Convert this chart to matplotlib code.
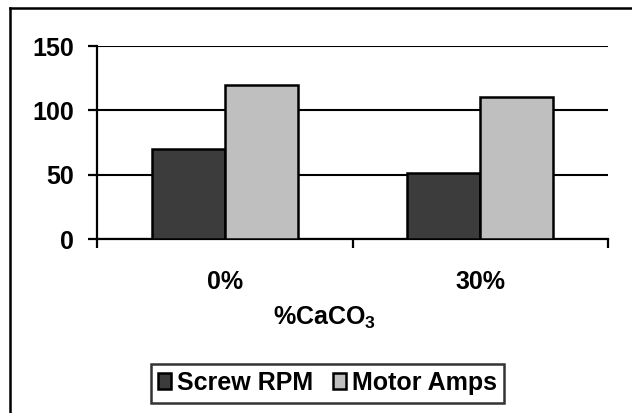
import numpy as np
import matplotlib
matplotlib.use("Agg")
import matplotlib.pyplot as plt
from matplotlib.lines import Line2D

plt.rcParams['font.family'] = ['Liberation Sans', 'DejaVu Sans']
plt.rcParams['font.weight'] = 'bold'
plt.rcParams['mathtext.fontset'] = 'custom'
plt.rcParams['mathtext.rm'] = 'Liberation Sans:bold'
plt.rcParams['mathtext.it'] = 'Liberation Sans:bold'
plt.rcParams['mathtext.bf'] = 'Liberation Sans:bold'

# data
categories = ['0%', '30%']
screw_rpm = [70, 51]
motor_amps = [120, 110]
series_names = ['Screw RPM', 'Motor Amps']
y_ticks = [0, 50, 100, 150]

fs = 18
W, H = 632, 413
fig = plt.figure(figsize=(W / 100, H / 100), dpi=100)
ax = fig.add_axes([97 / W, 1 - 239 / H, (608 - 97) / W, (239 - 46) / H])

x = np.arange(len(categories))
bw = 0.285
ax.bar(x - bw / 2, screw_rpm, bw, color='#3c3c3c', edgecolor='black', linewidth=1.8,
       label=series_names[0], zorder=3)
ax.bar(x + bw / 2, motor_amps, bw, color='#bfbfbf', edgecolor='black', linewidth=1.8,
       label=series_names[1], zorder=3)

ax.set_xlim(-0.5, len(categories) - 0.5)
ax.set_ylim(0, 150)
ax.set_yticks(y_ticks)
ax.set_yticklabels([str(v) for v in y_ticks], fontsize=fs, fontweight='bold')
ax.yaxis.grid(True, color='black', linewidth=1.5, zorder=0)
ax.set_axisbelow(True)

ax.set_xticks(x)
ax.set_xticklabels(categories, fontsize=fs, fontweight='bold')
ax.set_xticks(np.arange(len(categories) + 1) - 0.5, minor=True)
ax.tick_params(axis='x', which='major', length=0, pad=22)
ax.tick_params(axis='x', which='minor', length=6.5, width=1.6, direction='out')
ax.tick_params(axis='y', length=6.5, width=1.6, pad=10, direction='out')

for s in ['top', 'right']:
    ax.spines[s].set_visible(False)
for s in ['left', 'bottom']:
    ax.spines[s].set_linewidth(1.6)

fig.text(325 / W, 1 - 318 / H, '%CaCO$_{3}$', fontsize=fs, fontweight='bold',
         ha='center', va='center')

leg = fig.legend(loc='center', bbox_to_anchor=(327.5 / W, 1 - 383 / H), ncol=2,
                 prop={'size': fs, 'weight': 'bold'}, frameon=True, fancybox=False,
                 handlelength=0.5, handleheight=0.6, handletextpad=0.25,
                 columnspacing=0.8, borderpad=0.3, borderaxespad=0)
leg.get_frame().set_edgecolor('black')
leg.get_frame().set_linewidth(1.8)

# outer chart border (left and top edges visible)
fig.add_artist(Line2D([10 / W, 10 / W], [0, 1 - 8 / H], transform=fig.transFigure,
                      color='black', linewidth=1.8))
fig.add_artist(Line2D([10 / W, 1], [1 - 8 / H, 1 - 8 / H], transform=fig.transFigure,
                      color='black', linewidth=1.8))

fig.savefig('out.png', dpi=100)
